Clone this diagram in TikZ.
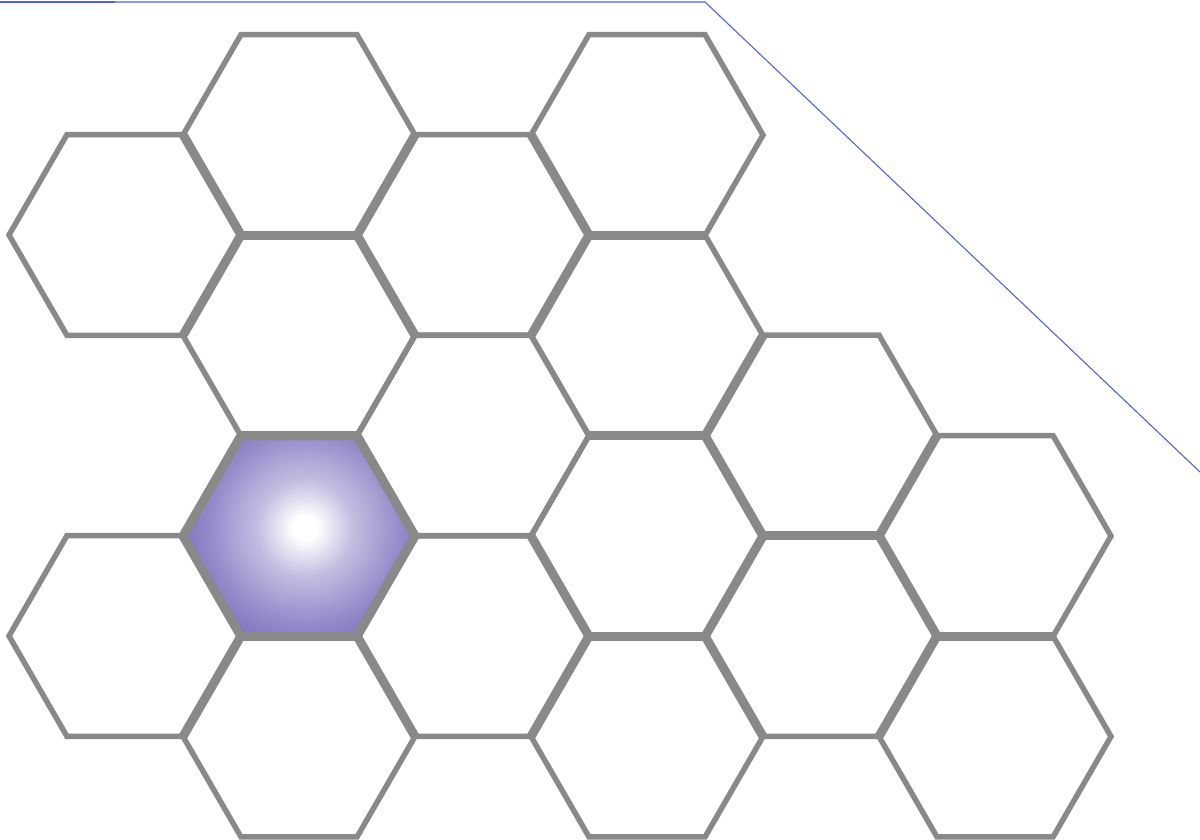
\documentclass[tikz,border=0pt]{standalone}
\definecolor{hexgray}{RGB}{136,137,136}
\definecolor{hexpurple}{RGB}{98,82,176}
\definecolor{topblue}{RGB}{82,102,200}
\pgfdeclareradialshading{hexglow}{\pgfpoint{0bp}{0bp}}{%
  color(0bp)=(white); color(2bp)=(white);
  color(8bp)=(hexpurple!38!white); color(16bp)=(hexpurple!68!white);
  color(24bp)=(hexpurple!88!white); color(31bp)=(hexpurple);
  color(50bp)=(hexpurple)}
\begin{document}
\begin{tikzpicture}[x=0.02cm,y=-0.02cm]
\tikzset{
  hexthin/.style={draw=hexgray,line width=0.11cm,line join=miter},
  hexthick/.style={draw=hexgray,line width=0.18cm,line cap=butt},
  hexborder/.style={draw=hexgray,line width=0.18cm,line join=miter},
  topline/.style={draw=topblue,line width=0.022cm},
}
\useasboundingbox (0,0) rectangle (1200,839);
% hexagon centres
\foreach \n/\cx/\cy in {A/125/235, B/125/636, C/299/135, D/299/335.5, P/299/536, E/299/736.5,
  F/473/235, G/473/435.5, H/473/636, I/647/135, J/647/335.5, K/647/536, L/647/736.5,
  M/821/435.5, N/821/636, O/995/536, Q/995/736.5}{
  \coordinate (\n) at (\cx,\cy);
  \foreach \k in {0,...,5}{\coordinate (\n-\k) at ([shift={(60*\k:116)}]\n);}
}
% purple shaded hexagon
\begin{scope}
  \clip (P-0) -- (P-1) -- (P-2) -- (P-3) -- (P-4) -- (P-5) -- cycle;
  \fill[hexpurple] (P) circle (130);
  \shade[shading=hexglow] (305,528) circle (150);
\end{scope}
% thin outlines
\foreach \n in {A,B,C,D,E,F,G,H,I,J,K,L,M,N,O,Q}{
  \draw[hexthin] (\n-0) -- (\n-1) -- (\n-2) -- (\n-3) -- (\n-4) -- (\n-5) -- cycle;
}
% thick shared edges
\foreach \a/\b in {A-5/A-0, A-0/A-1, C-1/C-2, C-0/C-1, D-5/D-0, F-5/F-0, F-0/F-1,
  I-1/I-2, J-0/J-1, J-1/J-2, K-5/K-0, K-0/K-1, K-1/K-2, K-2/K-3, M-1/M-2, M-0/M-1,
  N-5/N-0, O-1/O-2, N-0/N-1, N-2/N-3, H-0/H-1, H-2/H-3, E-3/E-4}{
  \draw[hexthick] (\a) -- (\b);
}
% purple hexagon border
\draw[hexborder] (P-0) -- (P-1) -- (P-2) -- (P-3) -- (P-4) -- (P-5) -- cycle;
% top blue line
\coordinate (t0) at (0,2);
\coordinate (t1) at (115,2);
\coordinate (t2) at (705,2);
\coordinate (t3) at (1200,472);
\draw[topline,line width=0.035cm] (t0) -- (t1);
\draw[topline] (t1) -- (t2) -- (t3);
\end{tikzpicture}
\end{document}
